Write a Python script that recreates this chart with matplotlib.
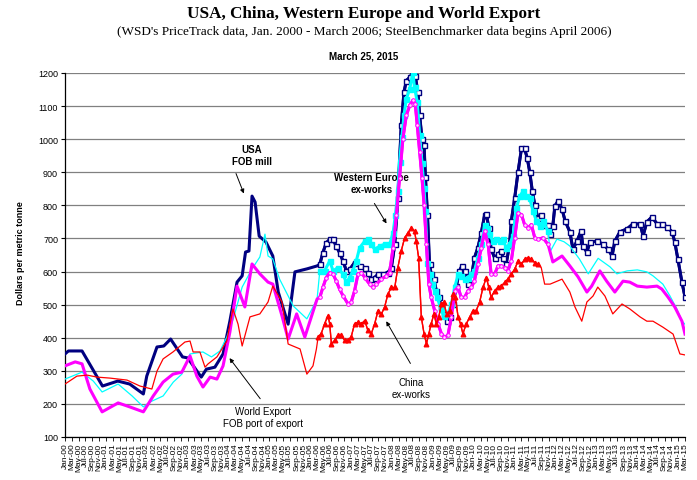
"""Steel price chart: USA, China, Western Europe and World Export."""

import matplotlib
matplotlib.use("Agg")
import matplotlib.pyplot as plt
import numpy as np
import pandas as pd

plt.rcParams['font.family'] = ['Liberation Sans', 'DejaVu Sans']

# x positions are months since Jan 2000
usa_months = [0, 1, 5, 11, 15.5, 19, 23, 24, 27, 29, 31, 34.5, 36, 40, 41.5, 44, 46.4, 48.4, 50.5, 52, 53, 54,
              54.9, 55.8, 57, 59, 61, 62.6, 65.5, 67.5, 71, 74,
              74.8, 75.7, 76.7, 77.7, 78.7, 79.6, 80.6, 81.6, 82.6, 83.6, 85.0, 86.5, 88.0, 88.9, 89.9, 90.9,
              91.9, 93.3, 94.8, 95.8, 96.8, 97.7, 98.7, 99.5, 100.2, 101.2, 102.1, 102.8, 103.6, 104.1, 104.8,
              105.4, 105.8, 106.4, 107.0, 107.5, 108.3, 109.0, 109.7, 110.5, 111.4, 112.2, 112.9, 113.9, 114.9,
              115.8, 116.5, 117.3, 118.3, 119.3, 120.2, 121.2, 122.2, 123.2, 123.7, 124.4, 125.1, 126.1, 127.1,
              127.9, 128.6, 129.5, 130.5, 131.0, 132.0, 133.0, 134.0, 134.9, 135.7, 136.4, 137.2, 137.9, 138.8,
              139.8, 140.8, 141.8,
              142.4, 143.2, 143.8, 144.7, 145.9, 146.8, 148.2, 149.1, 150.3, 151.5, 152.0, 153.2, 154.1, 156.1,
              157.9, 159.4, 160.6, 161.4, 162.9, 165.0, 166.7, 168.8, 169.7, 170.8, 172.3, 173.8, 175.2, 176.7,
              178.2, 179.0, 179.9, 181.1, 182.0]
usa_values = [351, 360, 360, 254, 269, 260, 230, 284, 372, 375, 396, 342, 339, 281, 305, 311, 351, 450, 568, 587, 659, 662,
              828, 810, 707, 689, 647, 538, 441, 599, 608, 617,
              622, 657, 687, 697, 697, 677, 657, 632, 602, 607, 627, 617, 612, 597, 577, 582,
              592, 592, 597, 612, 682, 822, 1042, 1142, 1177, 1187, 1202, 1192, 1142, 1072, 1002,
              982, 887, 772, 622, 592, 577, 542, 522, 492, 472, 452, 462, 502, 557,
              602, 617, 602, 562, 582, 642, 672, 717, 772, 774, 732, 667, 642, 652,
              662, 642, 622, 682, 752, 822, 902, 972, 972, 942, 902, 842, 802, 762,
              772, 742, 742,
              714, 738, 798, 813, 789, 753, 720, 668, 692, 723, 677, 659, 689, 692,
              683, 668, 647, 692, 720, 729, 744, 744, 708, 750, 765, 744, 744, 735,
              720, 689, 638, 568, 523]

weu_months = [0, 5, 8.3, 10.9, 15.6, 19.7, 23, 25, 28.8, 31.8, 34.3, 36.7, 40.5, 43, 45.5, 47.5, 49.4, 52, 54.9,
              57.2, 58.7, 59.6, 61, 63, 67, 71, 74,
              74.8, 76.2, 77.7, 78.7, 80.1, 81.6, 82.6, 83.6, 84.5, 85.5, 86.5, 88.0, 88.9, 89.9, 90.9, 92.4,
              93.8, 95.3, 96.3, 97.0, 97.7, 98.2, 98.9, 99.5, 100.2, 101.2, 102.1, 102.6, 103.4, 104.1, 104.8,
              105.4, 105.8, 106.4, 107.0, 107.7, 108.5, 109.3, 110.3, 111.2, 112.4, 113.4, 114.4, 115.4, 116.3,
              117.3, 118.3, 119.3, 120.2, 121.2, 122.2, 123.2, 124.0, 124.6, 125.6, 126.6, 127.6, 128.6, 129.5,
              130.5, 131.5, 132.5, 133.5, 134.4, 135.4, 136.4, 137.4, 138.4, 139.3, 140.3, 141.8,
              142.4, 144.4, 146.5, 148.2, 151, 153.6, 156.5, 160, 162, 165, 168, 170.8, 172.6, 175.5, 177.6,
              179.6, 181.1, 182]
weu_values = [275, 296, 269, 236, 260, 224, 191, 206, 224, 266, 290, 351, 357, 342, 360, 402, 457, 553, 608,
              644, 713, 647, 638, 577, 496, 457, 517,
              602, 602, 632, 602, 612, 592, 567, 582, 602, 632, 672, 692, 697, 682, 667, 677,
              682, 682, 717, 772, 842, 932, 1007, 1072, 1122, 1152, 1202, 1157, 1112, 1012, 927,
              852, 782, 627, 592, 562, 542, 522, 487, 467, 472, 502, 552, 592, 587,
              577, 582, 592, 602, 642, 682, 742, 732, 712, 692, 697, 692, 697, 672,
              682, 707, 792, 827, 842, 827, 822, 782, 752, 737, 752, 722,
              660, 698, 690, 677, 638, 593, 640, 614, 593, 602, 605, 599, 587, 562, 526,
              487, 450, 441]

world_months = [0, 3, 5, 7.3, 10.9, 15.6, 19, 23, 25.9, 28.8, 31.7, 34.3, 36.7, 38.7, 40.5, 42.6, 44.6, 46.4,
                48.4, 50.5, 52.8, 54.9, 57.2, 59.6, 61, 63.7, 65.5, 68, 70.4, 74,
                74.8, 75.7, 76.7, 77.7, 78.7, 79.6, 80.6, 81.6, 83.1, 84.0, 85.0, 86.0, 87.0, 88.0, 89.4, 90.4,
                91.4, 92.9, 94.3, 95.3, 96.3, 97.3, 98.2, 99.2, 100.2, 101.2, 102.1, 102.8, 103.4, 104.1, 104.8,
                105.4, 106.1, 106.8, 107.5, 108.5, 109.5, 110.5, 111.4, 112.4, 113.4, 114.4, 115.4, 116.3, 117.3,
                118.3, 119.3, 120.2, 121.2, 122.2, 123.2, 124.2, 125.1, 126.1, 127.1, 128.1, 129.1, 130.0, 131.0,
                132.0, 133.0, 134.0, 134.9, 135.9, 136.9, 137.9, 138.8, 140.3, 141.8,
                143.2, 145.9, 148.2, 150.6, 153.2, 154.6, 157, 159, 161.4, 163.8, 165.8, 168, 170.8, 173.8,
                175.2, 177, 179, 181.1, 182]
world_values = [315, 327, 321, 245, 176, 203, 191, 176, 224, 266, 290, 296, 345, 284, 251, 281, 275, 315,
                417, 556, 493, 623, 593, 568, 562, 466, 396, 472, 402, 517,
                522, 552, 582, 597, 592, 572, 547, 527, 502, 507, 542, 592, 597, 582, 562, 552,
                562, 577, 587, 597, 672, 772, 882, 1002, 1072, 1102, 1117, 1107, 1042, 962, 882,
                802, 682, 562, 522, 482, 442, 412, 402, 407, 462, 542, 552, 522, 522,
                542, 552, 572, 622, 672, 722, 682, 592, 592, 617, 617, 612, 602, 632,
                702, 777, 772, 742, 732, 742, 702, 697, 702, 682,
                629, 647, 617, 584, 538, 556, 602, 571, 538, 571, 568, 556, 553, 556,
                547, 523, 493, 450, 411]

china_months = [0, 3.5, 6.5, 9.4, 13.2, 18.2, 22, 25.5, 27, 28.8, 31.7, 35.2, 36.7, 37.6, 39.6, 41.1, 42,
                44.6, 47.5, 49.3, 50.8, 52, 54.3, 57.2, 59.6, 61, 63.7, 65.5, 69, 71, 72.8, 73.8,
                74.3, 75.2, 76.2, 77.2, 77.7, 78.2, 79.2, 80.1, 81.1, 82.1, 83.1, 84.0, 85.0, 86.0, 87.0, 88.0,
                88.9, 89.9, 90.9, 91.9, 92.9, 93.8, 94.8, 95.8, 96.8, 97.7, 98.7, 99.7, 100.7, 101.7, 102.6,
                103.1, 103.8, 104.6, 105.4, 106.1, 106.8, 107.5, 108.3, 109.0, 109.7, 110.5, 111.2, 112.0,
                112.9, 113.9, 114.6, 115.4, 116.1, 116.8, 117.8, 118.8, 119.8, 120.7, 121.7, 122.7, 123.7,
                124.4, 125.1, 126.1, 127.1, 128.1, 129.1, 130.0, 131.0, 132.0, 133.0, 134.0, 134.9, 135.9,
                136.9, 137.9, 138.8,
                139.8, 140.8, 142.4, 145.9, 148.2, 149.7, 151.7, 153.2, 155, 156.4, 158.5, 160.8, 163.5,
                165.8, 168.8, 170.8, 172.6, 175.5, 178.5, 180.5, 182]
china_values = [260, 284, 287, 281, 278, 272, 254, 245, 299, 336, 357, 387, 390, 357, 357, 311, 321,
                342, 390, 487, 441, 375, 463, 472, 508, 556, 508, 381, 366, 290, 315, 366,
                402, 412, 442, 467, 442, 382, 392, 407, 407, 392, 392, 402, 442, 447, 442, 452,
                422, 412, 442, 482, 472, 492, 532, 552, 552, 612, 662, 702, 717, 732, 722,
                692, 642, 462, 412, 382, 412, 442, 472, 442, 462, 502, 507, 472,
                482, 532, 522, 462, 442, 412, 442, 462, 482, 482, 507, 552, 582,
                552, 522, 542, 552, 557, 567, 577, 592, 607, 632, 622, 637, 642,
                637, 627, 622,
                612, 562, 562, 577, 538, 493, 450, 508, 526, 553, 526, 472, 502,
                487, 463, 450, 450, 432, 411, 351, 348]

# stretches drawn with markers (SteelBenchmarker data)
usa_marker_span = (74.5, 182.5)
weu_marker_span = (74.5, 142.0)
world_marker_span = (74.5, 142.0)
china_marker_span = (74.0, 139.0)

tick_dates = pd.date_range('2000-01-01', '2015-03-01', freq='2MS')
tick_labels = [d.strftime('%b-%y') for d in tick_dates]
tick_months = [(d.year - 2000) * 12 + d.month - 1 for d in tick_dates]


def span(months, values, lo, hi):
    m = np.array(months)
    v = np.array(values)
    keep = (m >= lo) & (m <= hi)
    return m[keep], v[keep]


fig = plt.figure(figsize=(6.97, 4.81), dpi=100)
ax = fig.add_axes([65 / 697, 43 / 481, 620 / 697, 364 / 481])

navy, cyan, magenta, red = '#000080', '#00FFFF', '#FF00FF', '#FF0000'

# USA
ax.plot(usa_months, usa_values, color=navy, lw=2.2, zorder=3)
m, v = span(usa_months, usa_values, *usa_marker_span)
ax.plot(m, v, color=navy, lw=2.0, marker='s', ms=3.6, mfc='white', mec=navy, mew=1.0, zorder=3)

# Western Europe
ax.plot(weu_months, weu_values, color=cyan, lw=0.9, zorder=4)
m, v = span(weu_months, weu_values, *weu_marker_span)
ax.plot(m, v, color=cyan, lw=2.2, marker='s', ms=3.6, mfc=cyan, mec=cyan, zorder=4)

# World Export
ax.plot(world_months, world_values, color=magenta, lw=2.2, zorder=5)
m, v = span(world_months, world_values, *world_marker_span)
ax.plot(m, v, color=magenta, lw=2.0, marker='o', ms=2.6, mfc='#ffd6ff', mec=magenta, mew=0.7, zorder=5)

# China
ax.plot(china_months, china_values, color=red, lw=0.9, zorder=6)
m, v = span(china_months, china_values, *china_marker_span)
ax.plot(m, v, color=red, lw=1.0, marker='^', ms=3.3, mfc=red, mec=red, zorder=6)

ax.set_xlim(0, 182)
ax.set_ylim(100, 1200)
ax.set_yticks(range(100, 1201, 100))
ax.set_xticks(tick_months)
ax.set_xticklabels(tick_labels, rotation=90, fontsize=6)
ax.tick_params(axis='y', labelsize=6.5, length=3, width=0.8, pad=2)
ax.tick_params(axis='x', length=3, width=0.6, pad=1)
ax.yaxis.grid(True, color='#808080', lw=0.9)
ax.set_axisbelow(True)
for side in ['top', 'right']:
    ax.spines[side].set_visible(False)
for side in ['left', 'bottom']:
    ax.spines[side].set_linewidth(0.9)

# callouts
arrow = dict(arrowstyle='-|>', color='black', lw=0.7, mutation_scale=6)
ax.text(54.9, 952, 'USA\nFOB mill', ha='center', va='center', fontsize=7, fontweight='bold', linespacing=1.2)
ax.annotate('', xy=(52.8, 828), xytext=(49.9, 904), arrowprops=arrow)
ax.text(90.1, 868, 'Western Europe\nex-works', ha='center', va='center', fontsize=7, fontweight='bold', linespacing=1.2)
ax.annotate('', xy=(94.8, 738), xytext=(90.4, 813), arrowprops=arrow)
ax.text(58.1, 160, 'World Export\nFOB port of export', ha='center', va='center', fontsize=7, linespacing=1.2)
ax.annotate('', xy=(47.8, 345), xytext=(57.8, 209), arrowprops=arrow)
ax.text(101.6, 248, 'China\nex-works', ha='center', va='center', fontsize=7, linespacing=1.2)
ax.annotate('', xy=(93.9, 457), xytext=(101.8, 315), arrowprops=arrow)

fig.text(21 / 697, 1 - 253 / 481, 'Dollars per metric tonne', rotation=90, ha='center', va='center',
         fontsize=6.5, fontweight='bold')
fig.text(364 / 697, 1 - 14 / 481, 'USA, China, Western Europe and World Export', ha='center', va='center',
         family='Liberation Serif', fontweight='bold', fontsize=12.3)
fig.text(364 / 697, 1 - 32 / 481,
         "(WSD's PriceTrack data, Jan. 2000 - March 2006; SteelBenchmarker data begins April 2006)",
         ha='center', va='center', family='Liberation Serif', fontsize=9.5)
fig.text(364 / 697, 1 - 57 / 481, 'March 25, 2015', ha='center', va='center', fontsize=7, fontweight='bold')

fig.savefig('out.png', dpi=100)
plt.close(fig)
